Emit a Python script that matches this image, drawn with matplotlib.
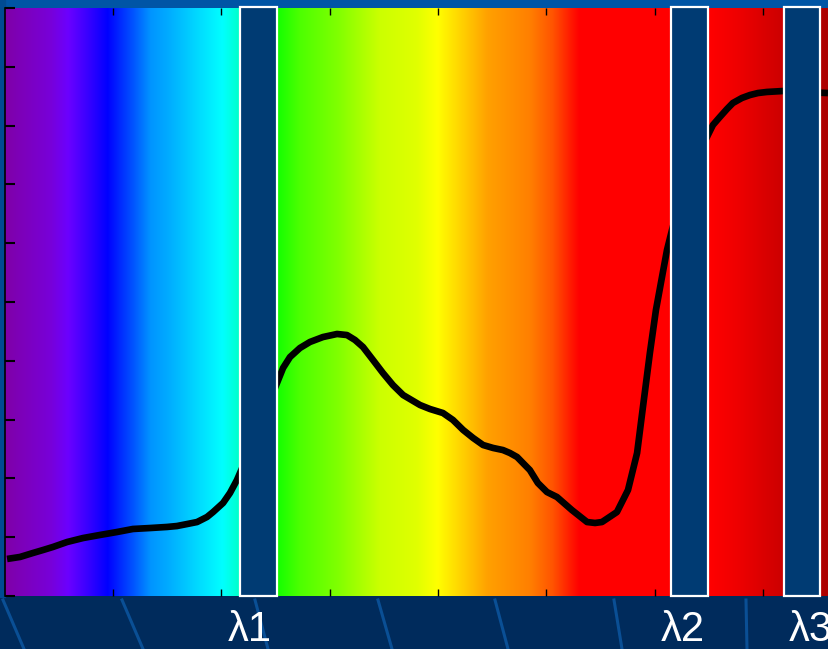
import numpy as np
import matplotlib
matplotlib.use('Agg')
import matplotlib.pyplot as plt
from matplotlib.colors import LinearSegmentedColormap
from matplotlib.patches import Rectangle
from matplotlib.lines import Line2D
import matplotlib.transforms as mtransforms

# leaf reflectance spectrum (wavelength nm, reflectance %)
wavelength = [401.1, 407.1, 413.1, 417.7, 422.3, 428.8, 436.2, 444.0, 451.8, 459.2,
              467.1, 474.9, 479.5, 484.2, 488.8, 493.4, 496.2, 500.8, 504.0, 507.2,
              513.2, 517.8, 522.5, 525.7, 528.5, 531.7, 536.3, 540.9, 546.9, 553.4,
              558.0, 561.7, 565.4, 570.0, 574.6, 579.2, 583.9, 591.7, 596.3, 602.3,
              606.9, 611.6, 616.2, 620.8, 625.4, 630.0, 633.2, 636.5, 639.2, 642.4,
              646.1, 650.3, 654.9, 661.8, 668.8, 672.5, 675.7, 682.6, 687.7, 691.9,
              694.6, 697.8, 700.6, 703.4, 705.7, 708.0, 711.7, 716.3, 720.9, 724.6,
              726.9, 730.1, 733.4, 736.1, 740.3, 744.0, 747.7, 751.8, 759.2, 767.1,
              780.0]
reflectance = [3.15, 3.32, 3.66, 3.91, 4.17, 4.59, 4.93, 5.19, 5.44, 5.70,
               5.78, 5.87, 5.95, 6.12, 6.29, 6.72, 7.14, 7.91, 8.76, 9.86,
               12.41, 14.54, 16.67, 18.11, 19.39, 20.32, 21.09, 21.60, 22.02, 22.28,
               22.19, 21.77, 21.17, 20.07, 18.96, 17.94, 17.09, 16.24, 15.90, 15.56,
               14.97, 14.12, 13.44, 12.84, 12.59, 12.41, 12.16, 11.82, 11.31, 10.71,
               9.61, 8.84, 8.42, 7.31, 6.29, 6.21, 6.29, 7.14, 9.01, 12.16,
               16.07, 20.66, 24.32, 27.13, 29.42, 31.12, 33.67, 36.05, 37.76, 39.20,
               40.05, 40.73, 41.41, 41.92, 42.35, 42.60, 42.77, 42.86, 42.94, 42.86,
               42.77]

# measurement bands
band_labels = ['λ1', 'λ2', 'λ3']
band_centers = [517.2, 716.1, 768.1]
band_width = 16.8

# spectrum colours (nm, rgb)
spec_nm = [400, 421, 429, 439, 447.2, 459, 467, 475, 490, 500.3, 506, 509,
           525.7, 536, 553.4, 573, 590, 599.5, 622.6, 642, 652.6, 661, 665,
           725.5, 739, 759, 780]
spec_rgb = [(0.50, 0.0, 0.66), (0.47, 0.0, 0.85), (0.42, 0.0, 1.0), (0.2, 0.0, 1.0),
            (0.0, 0.0, 1.0), (0.0, 0.33, 1.0), (0.0, 0.58, 1.0), (0.0, 0.67, 1.0),
            (0.0, 0.87, 1.0), (0.0, 1.0, 1.0), (0.0, 1.0, 0.85), (0.0, 1.0, 0.75),
            (0.08, 1.0, 0.0), (0.3, 1.0, 0.0), (0.5, 1.0, 0.0), (0.8, 1.0, 0.0),
            (0.88, 1.0, 0.0), (1.0, 1.0, 0.0), (1.0, 0.63, 0.0), (1.0, 0.5, 0.0),
            (1.0, 0.33, 0.0), (1.0, 0.1, 0.0), (1.0, 0.0, 0.0), (1.0, 0.0, 0.0),
            (0.93, 0.0, 0.0), (0.8, 0.0, 0.0), (0.67, 0.0, 0.0)]

navy = '#002b5c'
bar_blue = '#003b73'

fig = plt.figure(figsize=(8.29, 6.49), dpi=100, facecolor=navy)

# background decoration
fig.patches.append(Rectangle((0, 1 - 8 / 649), 1, 8 / 649, transform=fig.transFigure,
                             color='#0055a5', zorder=-2))
fig.patches.append(Rectangle((0, 0.08), 5 / 829, 0.92, transform=fig.transFigure,
                             color='#004b92', zorder=-2))
for x0, x1 in [(3, 24), (122, 143), (255, 268), (378, 392), (495, 508), (614, 622), (746, 747)]:
    fig.lines.append(Line2D([x0 / 829, x1 / 829], [49 / 649, 0], transform=fig.transFigure,
                            color='#0a4f95', lw=2.2, zorder=-1))

ax = fig.add_axes([4.67 / 829, 53 / 649, 823.3 / 829, 588 / 649])

lo, hi = spec_nm[0], spec_nm[-1]
cmap = LinearSegmentedColormap.from_list(
    'spec', [((n - lo) / (hi - lo), c) for n, c in zip(spec_nm, spec_rgb)], N=2048)
grad = np.linspace(lo, hi, 1600)[None, :]
ax.imshow(grad, cmap=cmap, extent=(lo, hi, 0, 50), aspect='auto',
          vmin=lo, vmax=hi, interpolation='bilinear', zorder=0)

ax.plot(wavelength, reflectance, color='black', lw=4.8, solid_capstyle='butt',
        solid_joinstyle='round', zorder=2)

ax.bar(band_centers, 50.1, width=band_width, bottom=0, color=bar_blue,
       edgecolor='white', linewidth=1.6, zorder=3, clip_on=False)

label_offsets = [-4, -3, 4]
trans = mtransforms.blended_transform_factory(ax.transData, ax.transAxes)
for lab, c, off in zip(band_labels, band_centers, label_offsets):
    ax.text(c + off, -0.058, lab, transform=trans, ha='center', va='center',
            color='white', fontsize=30, family=['Liberation Sans', 'DejaVu Sans'],
            clip_on=False)

ax.set_xlim(lo, hi)
ax.set_ylim(0, 50)
ax.set_xticks(np.arange(450, 751, 50))
ax.set_yticks(np.arange(0, 51, 5))
ax.tick_params(axis='x', which='both', direction='in', top=True, bottom=True,
               length=5, width=1, color='black', labelbottom=False)
ax.tick_params(axis='y', which='both', direction='in', left=True, right=False,
               length=7, width=1.5, color='black', labelleft=False)
for s in ['top', 'right', 'bottom']:
    ax.spines[s].set_visible(False)
ax.spines['left'].set_color('black')
ax.spines['left'].set_linewidth(1.2)

fig.savefig('out.png', dpi=100, facecolor=navy)
